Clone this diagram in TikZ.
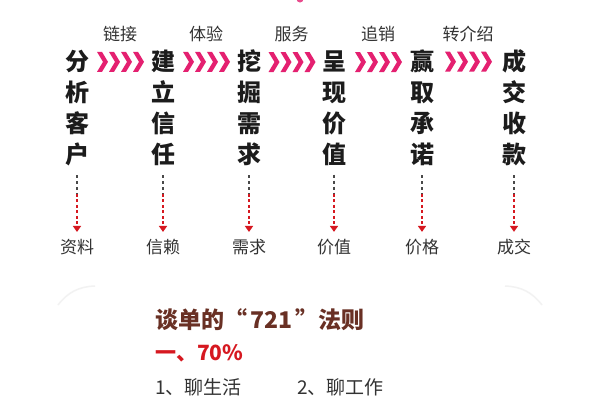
\documentclass[tikz,border=0pt]{standalone}
\usepackage{fontspec}
\setmainfont{Noto Sans CJK SC}
\usetikzlibrary{arrows.meta, calc}
\definecolor{chev}{RGB}{228,32,112}
\definecolor{darr}{RGB}{214,24,32}
\definecolor{brn}{RGB}{105,48,36}
\definecolor{ink}{RGB}{28,28,28}
\tikzset{col/.style = {font=\bfseries\fontsize{24}{31}\selectfont, align=center, inner sep=0pt, text=ink},
  lab/.style = {font=\fontsize{17}{17}\selectfont, inner sep=0pt, text=ink!90},
  upper/.style = {ink!80, line width=1.4pt, dash pattern=on 3pt off 3pt, shorten <=9pt},
  lower/.style = {darr, line width=1.6pt, dash pattern=on 3pt off 2.5pt, -{Triangle[width=8pt,length=6pt]}, shorten >=7pt},
  chevron/.pic = {\foreach \i in {0,...,3} \fill[chev] (12*\i-23,10) -- ++(6,-10) -- ++(-6,-10) -- ++(5,0) -- ++(6,10) -- ++(-6,10) -- cycle;}}
\begin{document}
\begin{tikzpicture}[x=1pt, y=1pt]

\useasboundingbox (0,0) rectangle (600,-400);
\fill[white] (0,0) rectangle (600,-400);
\fill[chev!80] (300,1) circle (3.5);

\foreach \n/\x/\t/\b in {1/77/{分\\析\\客\\户}/资料, 2/163/{建\\立\\信\\任}/信赖, 3/249/{挖\\掘\\需\\求}/需求, 4/334/{呈\\现\\价\\值}/价值, 5/422/{赢\\取\\承\\诺}/价格, 6/514/{成\\交\\收\\款}/成交} {
  \node[col] (c\n) at (\x,-108) {\t};
  \node[lab] (b\n) at (\x,-247) {\b};
  \coordinate (m\n) at ($(c\n.south)!0.38!(b\n.north)$);
  \draw[upper] (c\n.south) -- (m\n);
  \draw[lower] (m\n) -- (b\n.north);
}
\foreach \a/\b/\t in {1/2/链接, 2/3/体验, 3/4/服务, 4/5/追销, 5/6/转介绍} {
  \node[lab] (t\a) at ($(c\a.north)!0.5!(c\b.north)+(0,16)$) {\t};
  \pic at ($(c\a.north)!0.5!(c\b.north)+(0,-12)$) {chevron};
}

\draw[black!5, line width=1.5pt] (58,-305) to[bend left=25] (95,-286);
\draw[black!5, line width=1.5pt] (505,-286) to[bend left=25] (542,-305);

\node[anchor=west, inner sep=0pt, text=brn, font=\bfseries\fontsize{23}{23}\selectfont] (rule) at (155,-320) {谈单的“\hspace{3pt}721\hspace{3pt}”法则};
\node[anchor=west, inner sep=0pt, text=darr, font=\bfseries\fontsize{21}{21}\selectfont] (p70) at (155,-353) {一、70\%};
\node[anchor=west, inner sep=0pt, text=ink!90, font=\fontsize{19}{19}\selectfont] (i1) at (155,-387) {1、聊生活};
\node[anchor=west, inner sep=0pt, text=ink!90, font=\fontsize{19}{19}\selectfont] (i2) at (297,-387) {2、聊工作};

\end{tikzpicture}
\end{document}
